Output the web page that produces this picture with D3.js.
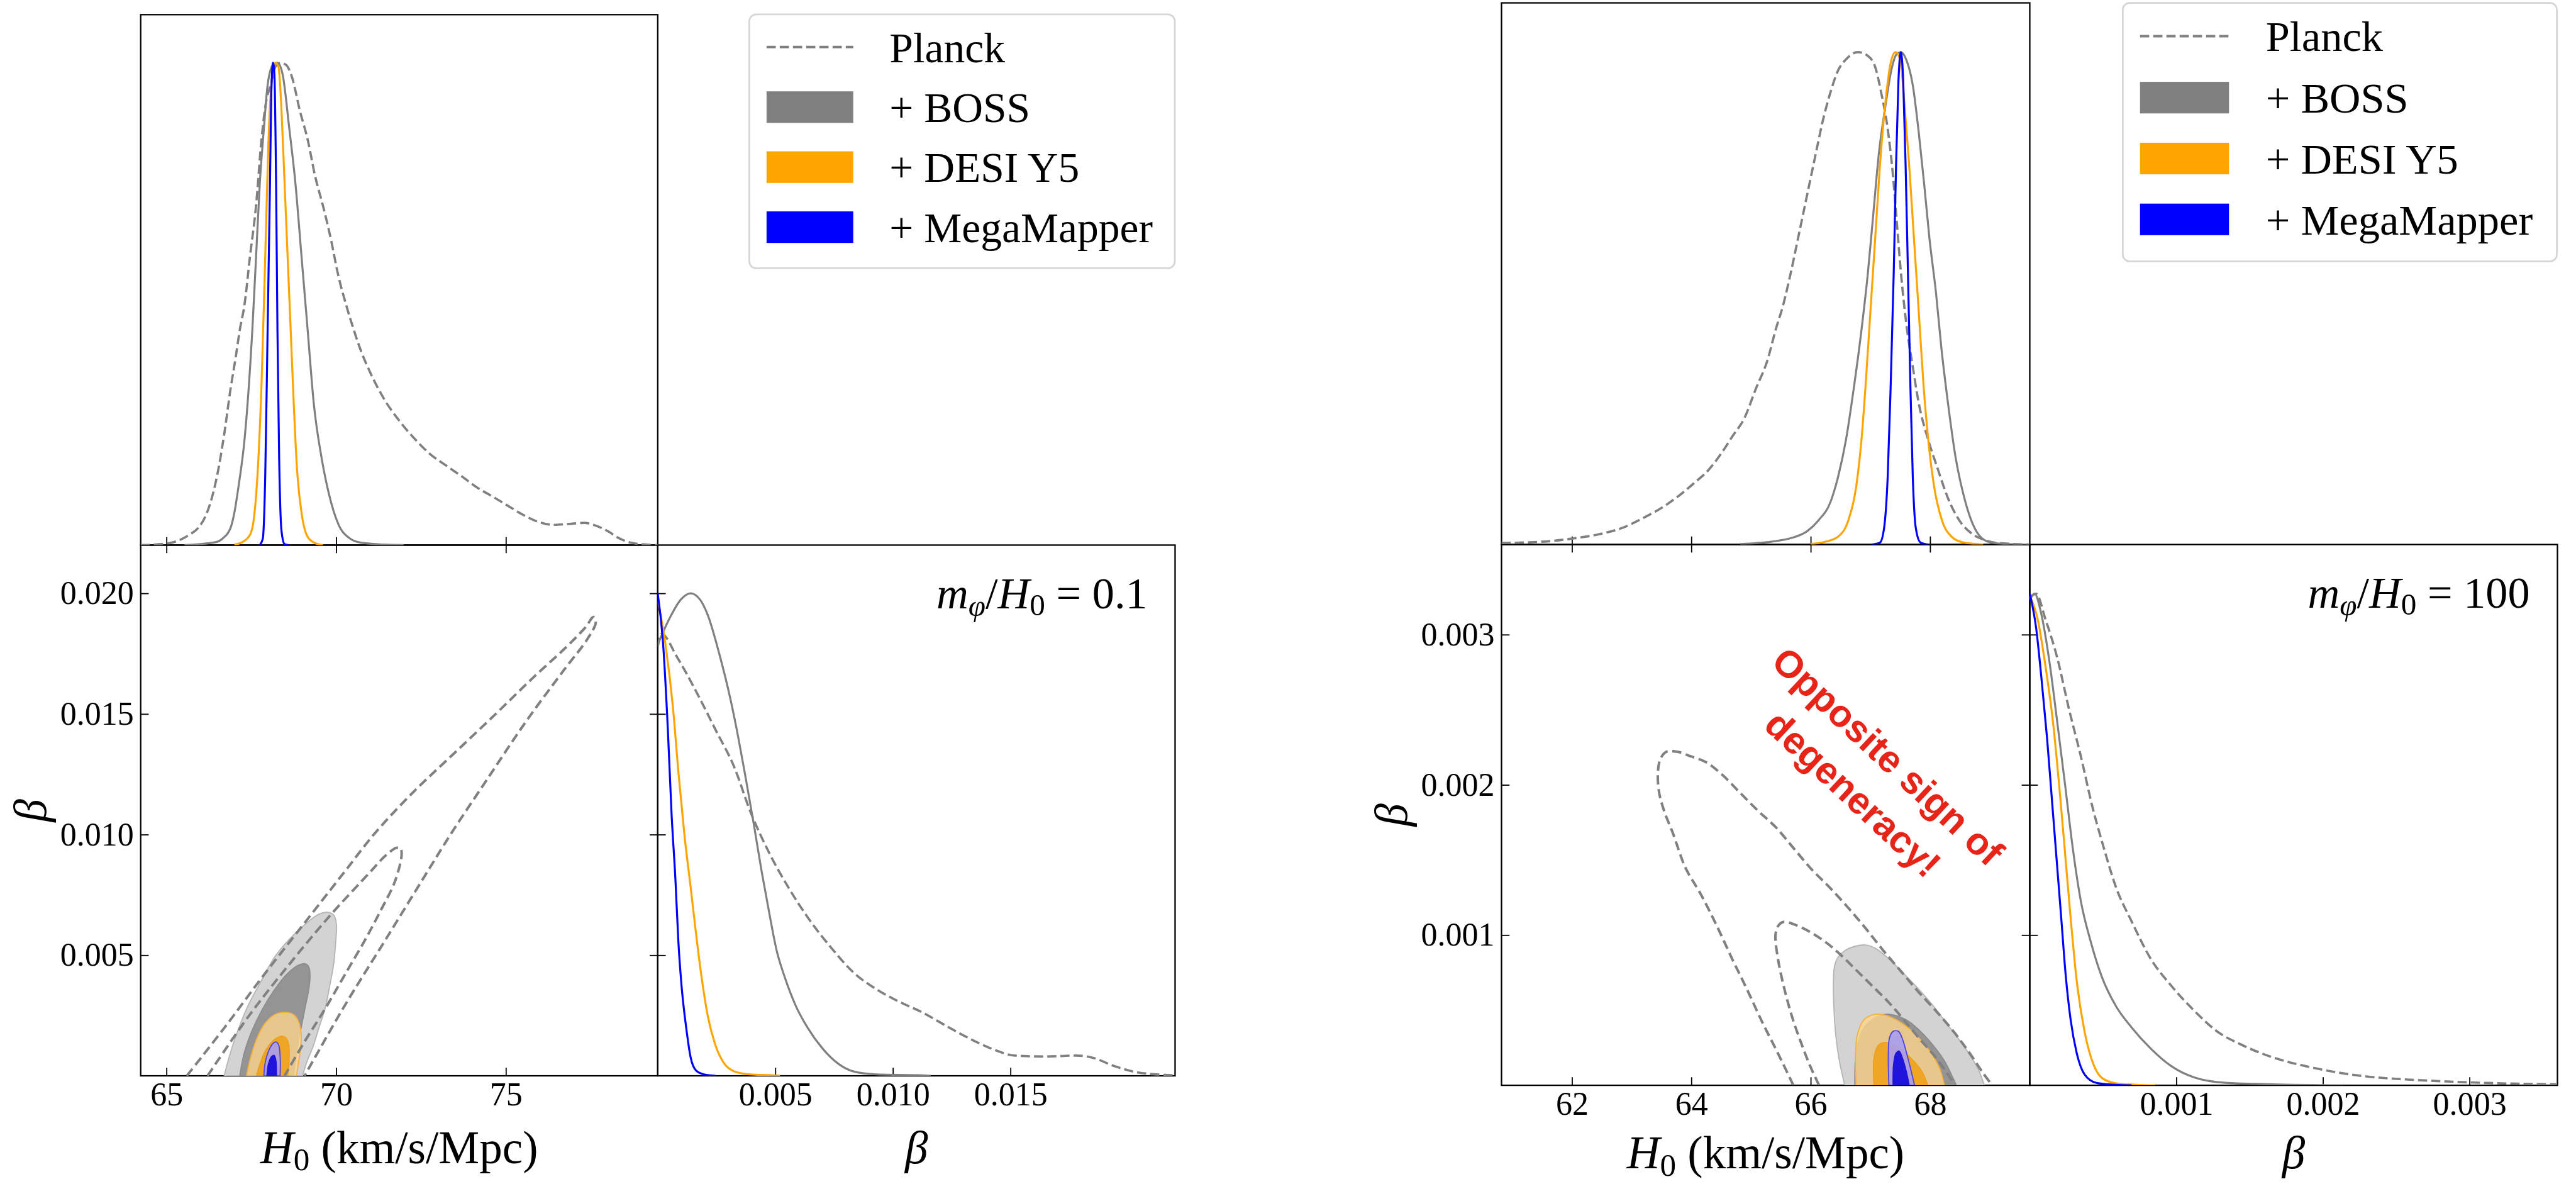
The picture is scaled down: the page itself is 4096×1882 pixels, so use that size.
<!DOCTYPE html>
<html>
<head>
<meta charset="utf-8">
<script src="https://cdn.jsdelivr.net/npm/d3@7"></script>
<style>
html, body { margin: 0; padding: 0; background: #fff; }
svg { display: block; }
text { font-family: "Liberation Serif", "Times New Roman", serif; fill: #000; }
</style>
</head>
<body>
<div id="chart"></div>
<script>
// ---------- data ----------

const legendLabels = ["Planck", "+ BOSS", "+ DESI Y5", "+ MegaMapper"];
const densityDomain = [0, 1.1];

// left figure: m_phi/H0 = 0.1
const leftH0Ticks = [65, 70, 75];
const leftBetaTicks = [0.005, 0.010, 0.015, 0.020];
const leftBetaXTicks = [0.005, 0.010, 0.015];

const leftH0Planck = [[64.24,0],[64.63,0.001],[64.96,0.003],[65.30,0.008],[65.64,0.020],[65.94,0.036],[66.17,0.063],[66.39,0.112],[66.55,0.165],[66.71,0.234],[66.89,0.325],[67.03,0.385],[67.16,0.446],[67.30,0.499],[67.46,0.598],[67.64,0.704],[67.80,0.841],[67.93,0.917],[68.07,0.954],[68.21,0.992],[68.36,1.000],[68.52,0.996],[68.70,0.970],[68.93,0.901],[69.16,0.841],[69.38,0.765],[69.61,0.704],[69.84,0.636],[70.06,0.560],[70.29,0.499],[70.52,0.446],[70.74,0.401],[70.97,0.363],[71.42,0.302],[71.88,0.256],[72.33,0.219],[72.78,0.188],[73.24,0.165],[73.69,0.143],[74.14,0.120],[74.60,0.101],[75.05,0.082],[75.50,0.063],[75.96,0.048],[76.41,0.042],[76.86,0.044],[77.31,0.046],[77.66,0.040],[78.00,0.029],[78.34,0.014],[78.68,0.005],[79.13,0.001],[79.47,0]];
const leftH0Boss = [[65.53,0],[66.44,0.006],[66.66,0.014],[66.89,0.036],[67.00,0.067],[67.12,0.120],[67.30,0.219],[67.39,0.294],[67.53,0.446],[67.64,0.598],[67.75,0.750],[67.87,0.863],[67.98,0.954],[68.14,0.996],[68.27,1.000],[68.42,0.977],[68.62,0.863],[68.80,0.750],[68.98,0.598],[69.16,0.446],[69.34,0.294],[69.57,0.181],[69.79,0.105],[70.06,0.044],[70.40,0.014],[70.74,0.005],[71.42,0.001],[71.99,0]];
const leftH0Desi = [[67.00,0.001],[67.23,0.006],[67.46,0.021],[67.57,0.052],[67.68,0.143],[67.80,0.332],[67.91,0.598],[68.00,0.826],[68.09,0.954],[68.21,1.000],[68.30,0.992],[68.39,0.901],[68.48,0.750],[68.57,0.598],[68.66,0.446],[68.75,0.294],[68.84,0.165],[68.98,0.067],[69.16,0.017],[69.38,0.004],[69.61,0]];
const leftH0Mega = [[67.75,0],[67.84,0.014],[67.91,0.143],[67.98,0.446],[68.05,0.750],[68.09,0.939],[68.14,1.000],[68.18,0.977],[68.23,0.750],[68.27,0.446],[68.32,0.181],[68.39,0.029],[68.48,0.002],[68.59,0]];

const leftBetaPlanck = [[0,0.889],[0.00016,0.916],[0.00082,0.868],[0.00163,0.797],[0.00245,0.718],[0.00327,0.638],[0.00392,0.550],[0.00474,0.462],[0.00555,0.391],[0.00637,0.329],[0.00735,0.267],[0.00833,0.214],[0.00931,0.179],[0.01029,0.153],[0.01127,0.131],[0.01225,0.104],[0.01323,0.078],[0.01421,0.056],[0.01519,0.042],[0.0165,0.040],[0.0178,0.042],[0.01846,0.038],[0.01943,0.020],[0.02042,0.007],[0.02198,0.001]];
const leftBetaBoss = [[0,0.894],[0.00049,0.947],[0.00098,0.987],[0.0014,1.0],[0.0018,0.987],[0.00212,0.956],[0.00261,0.876],[0.0031,0.779],[0.00343,0.700],[0.00376,0.612],[0.00408,0.523],[0.00441,0.426],[0.00474,0.338],[0.00506,0.259],[0.00539,0.206],[0.00588,0.144],[0.00637,0.100],[0.00702,0.056],[0.00768,0.025],[0.00833,0.009],[0.00931,0.003],[0.01127,0.001],[0.0116,0]];
const leftBetaDesi = [[0,0.985],[0.00033,0.894],[0.00065,0.762],[0.00088,0.629],[0.00114,0.497],[0.0014,0.391],[0.00163,0.294],[0.00186,0.206],[0.00212,0.126],[0.00245,0.064],[0.00278,0.029],[0.00327,0.009],[0.00392,0.003],[0.0049,0.001],[0.0052,0]];
const leftBetaMega = [[0,1.0],[0.00023,0.894],[0.00043,0.718],[0.00059,0.541],[0.00075,0.409],[0.00088,0.276],[0.00101,0.188],[0.00121,0.100],[0.0014,0.038],[0.00163,0.011],[0.00196,0.003],[0.00245,0]];

const leftBossOuter = [[66.70,0],[66.88,0.00094],[67.11,0.00190],[67.41,0.00293],[67.77,0.00388],[68.18,0.00491],[68.60,0.00563],[69.07,0.00626],[69.49,0.00670],[69.75,0.00678],[69.93,0.00666],[70.01,0.00626],[69.99,0.00563],[69.93,0.00467],[69.81,0.00372],[69.67,0.00277],[69.49,0.00198],[69.31,0.00118],[69.13,0.00055],[69.01,0]];
const leftBossInner = [[67.16,0],[67.29,0.00094],[67.53,0.00190],[67.83,0.00277],[68.18,0.00356],[68.54,0.00420],[68.89,0.00459],[69.07,0.00465],[69.19,0.00452],[69.23,0.00412],[69.19,0.00356],[69.10,0.00293],[69.01,0.00229],[68.92,0.00166],[68.83,0.00094],[68.75,0]];
const leftDesiOuter = [[67.36,0],[67.47,0.00071],[67.65,0.00150],[67.88,0.00213],[68.18,0.00253],[68.48,0.00263],[68.75,0.00253],[68.89,0.00225],[68.97,0.00174],[68.95,0.00110],[68.89,0.00055],[68.83,0]];
const leftDesiInner = [[67.65,0],[67.77,0.00055],[67.94,0.00110],[68.18,0.00150],[68.39,0.00164],[68.54,0.00154],[68.61,0.00118],[68.61,0.00055],[68.57,0]];
const leftMegaOuter = [[67.87,0],[67.91,0.00055],[68.03,0.00110],[68.15,0.00136],[68.24,0.00140],[68.31,0.00126],[68.35,0.00079],[68.35,0]];
const leftMegaInner = [[67.96,0],[68.00,0.00047],[68.09,0.00079],[68.17,0.00085],[68.22,0.00067],[68.24,0]];
const leftPlanckOuter = [[65.60,0],[66.70,0.00198],[67.88,0.00420],[69.07,0.00634],[70.26,0.00848],[71.15,0.01007],[72.30,0.01180],[73.50,0.01340],[74.70,0.01500],[75.80,0.01650],[76.80,0.01780],[77.35,0.01860],[77.58,0.01902],[77.65,0.01880],[77.40,0.01810],[76.70,0.01680],[75.60,0.01470],[74.50,0.01240],[73.40,0.01007],[72.63,0.00833],[71.45,0.00563],[70.26,0.00293],[69.07,0]];
const leftPlanckInner = [[66.21,0],[67.41,0.00245],[68.60,0.00459],[69.78,0.00658],[70.97,0.00840],[71.45,0.00912],[71.77,0.00945],[71.89,0.00944],[71.93,0.00920],[71.74,0.00809],[71.33,0.00690],[70.85,0.00563],[70.26,0.00420],[69.67,0.00277],[69.07,0.00142],[68.48,0]];

// right figure: m_phi/H0 = 100
const rightH0Ticks = [62, 64, 66, 68];
const rightBetaTicks = [0.001, 0.002, 0.003];
const rightBetaXTicks = [0.001, 0.002, 0.003];

const rightH0Planck = [[60.82,0.003],[61.54,0.006],[62.00,0.012],[62.46,0.021],[62.85,0.034],[63.18,0.053],[63.51,0.075],[63.77,0.097],[64.03,0.123],[64.30,0.153],[64.49,0.183],[64.69,0.220],[64.89,0.257],[65.08,0.316],[65.28,0.376],[65.41,0.435],[65.54,0.487],[65.67,0.554],[65.80,0.629],[65.94,0.710],[66.07,0.785],[66.20,0.859],[66.33,0.918],[66.46,0.963],[66.59,0.985],[66.79,1.0],[66.95,0.993],[67.08,0.970],[67.18,0.918],[67.29,0.844],[67.38,0.747],[67.44,0.658],[67.51,0.554],[67.60,0.450],[67.71,0.361],[67.81,0.287],[67.97,0.212],[68.13,0.153],[68.30,0.094],[68.49,0.049],[68.69,0.023],[68.89,0.010],[69.15,0.003],[69.66,0]];
const rightH0Boss = [[64.82,0.001],[65.35,0.006],[65.67,0.013],[65.94,0.027],[66.13,0.049],[66.33,0.086],[66.46,0.138],[66.59,0.212],[66.72,0.316],[66.85,0.435],[66.96,0.554],[67.05,0.673],[67.14,0.792],[67.25,0.889],[67.35,0.963],[67.44,0.996],[67.51,1.0],[67.60,0.985],[67.71,0.933],[67.81,0.837],[67.90,0.733],[67.99,0.621],[68.10,0.510],[68.19,0.398],[68.30,0.287],[68.43,0.175],[68.56,0.101],[68.69,0.049],[68.82,0.019],[69.02,0.004],[69.28,0.001],[69.66,0]];
const rightH0Desi = [[66.00,0.001],[66.26,0.006],[66.46,0.016],[66.63,0.049],[66.76,0.116],[66.85,0.212],[66.92,0.324],[67.00,0.473],[67.08,0.621],[67.16,0.770],[67.25,0.896],[67.34,0.978],[67.42,1.0],[67.50,0.985],[67.57,0.896],[67.65,0.770],[67.73,0.621],[67.81,0.473],[67.89,0.324],[67.97,0.212],[68.07,0.116],[68.20,0.049],[68.36,0.016],[68.56,0.004],[68.89,0]];
const rightH0Mega = [[67.02,0],[67.16,0.004],[67.23,0.034],[67.29,0.138],[67.34,0.324],[67.39,0.547],[67.43,0.770],[67.47,0.941],[67.51,1.0],[67.55,0.941],[67.59,0.770],[67.63,0.547],[67.67,0.324],[67.71,0.138],[67.76,0.034],[67.84,0.004],[67.97,0]];

const rightBetaPlanck = [[0,0.991],[0.000043,1.0],[0.000107,0.948],[0.000187,0.870],[0.000267,0.766],[0.000347,0.671],[0.000427,0.567],[0.000507,0.481],[0.000588,0.403],[0.000694,0.334],[0.000828,0.256],[0.000961,0.204],[0.001121,0.152],[0.001281,0.109],[0.001441,0.083],[0.001655,0.057],[0.001868,0.040],[0.002082,0.027],[0.002295,0.018],[0.002562,0.012],[0.002828,0.008],[0.003095,0.005],[0.003362,0.003],[0.003591,0.002]];
const rightBetaBoss = [[0,0.987],[0.0000325,1.0],[0.00008,0.957],[0.000134,0.862],[0.000187,0.740],[0.000241,0.611],[0.000294,0.481],[0.000347,0.377],[0.000417,0.291],[0.000491,0.221],[0.000588,0.161],[0.000694,0.118],[0.000828,0.074],[0.000961,0.040],[0.001121,0.016],[0.001334,0.005],[0.001655,0.002],[0.002135,0]];
const rightBetaDesi = [[0,0.996],[0.000054,0.948],[0.000107,0.853],[0.000161,0.732],[0.000203,0.602],[0.000241,0.472],[0.000278,0.343],[0.00032,0.213],[0.000374,0.109],[0.000438,0.040],[0.000507,0.012],[0.000614,0.003],[0.000854,0]];
const rightBetaMega = [[0,1.0],[0.000043,0.931],[0.00008,0.827],[0.000118,0.706],[0.00015,0.585],[0.000182,0.464],[0.000214,0.343],[0.000246,0.221],[0.000278,0.135],[0.00032,0.066],[0.000374,0.022],[0.000454,0.005],[0.000588,0.001],[0.000694,0]];

const rightBossOuter = [[66.57,0],[66.48,0.000163],[66.42,0.000333],[66.39,0.000504],[66.38,0.000675],[66.40,0.000794],[66.46,0.000854],[66.57,0.000896],[66.74,0.000925],[66.91,0.000934],[67.08,0.000913],[67.30,0.000845],[67.56,0.000743],[67.81,0.000640],[68.07,0.000521],[68.33,0.000385],[68.59,0.000248],[68.80,0.000112],[68.91,0]];
const rightBossInner = [[66.74,0],[66.76,0.000214],[66.87,0.000368],[67.08,0.000450],[67.30,0.000473],[67.60,0.000436],[67.86,0.000351],[68.07,0.000257],[68.24,0.000163],[68.37,0.000061],[68.44,0]];
const rightDesiOuter = [[66.76,0],[66.75,0.000196],[66.78,0.000333],[66.89,0.000436],[67.08,0.000473],[67.25,0.000467],[67.51,0.000418],[67.77,0.000333],[67.99,0.000231],[68.16,0.000112],[68.24,0]];
const rightDesiInner = [[67.06,0],[67.06,0.000180],[67.13,0.000265],[67.25,0.000286],[67.43,0.000265],[67.64,0.000196],[67.86,0.000094],[67.96,0]];
const rightMegaOuter = [[67.31,0],[67.30,0.000197],[67.32,0.000316],[67.38,0.000359],[67.47,0.000359],[67.53,0.000316],[67.64,0.000163],[67.74,0]];
const rightMegaInner = [[67.38,0],[67.39,0.000146],[67.43,0.000214],[67.48,0.000228],[67.53,0.000189],[67.60,0.000095],[67.65,0]];
const rightPlanckOuter = [[65.71,0],[65.45,0.000214],[65.19,0.000419],[64.93,0.000641],[64.68,0.000845],[64.42,0.001067],[64.16,0.001271],[63.90,0.001450],[63.69,0.00168],[63.55,0.00182],[63.46,0.00195],[63.44,0.00208],[63.48,0.00217],[63.58,0.00222],[63.77,0.00222],[63.99,0.00219],[64.25,0.00215],[64.51,0.00207],[64.81,0.00195],[65.11,0.00183],[65.41,0.00172],[65.71,0.00158],[66.01,0.00144],[66.31,0.00132],[66.61,0.00119],[66.91,0.00105],[67.21,0.00090],[67.51,0.00076],[67.81,0.00062],[68.11,0.00049],[68.41,0.00035],[68.67,0.00021],[68.89,0.00008],[69.04,0]];
const rightPlanckInner = [[66.14,0],[65.99,0.000129],[65.84,0.000282],[65.69,0.000453],[65.56,0.000640],[65.45,0.000845],[65.41,0.000999],[65.45,0.001058],[65.54,0.001087],[65.75,0.001067],[66.01,0.001016],[66.27,0.000947],[66.52,0.000862],[66.78,0.000760],[67.04,0.000658],[67.30,0.000555],[67.56,0.000436],[67.81,0.000316],[68.07,0.000197],[68.29,0.000078],[68.41,0]];

// ---------- styling ----------
const S = 0.913;
const W = 4096, H = 1882;
const lineColors = { planck: "#808080", boss: "#808080", desi: "#ffa500", mega: "#0000ff" };
const tickLen = 14;

const svg = d3.select("#chart").append("svg")
    .attr("width", W)
    .attr("height", H);
svg.append("rect").attr("width", W).attr("height", H).attr("fill", "#fff");

// everything below is drawn in reference pixels and scaled down
const root = svg.append("g").attr("transform", `scale(${S})`);
const defs = svg.append("defs");

const figures = [
    {
        id: "lo",
        x0: 245, x1: 1145.5, x2: 2046.5, y0: 25.5, y1: 949, y2: 1873,
        h0Domain: [64.24, 79.475], betaDomain: [0, 0.022],
        h0Ticks: leftH0Ticks, betaTicks: leftBetaTicks, betaXTicks: leftBetaXTicks,
        h0: [leftH0Planck, leftH0Boss, leftH0Desi, leftH0Mega],
        beta: [leftBetaPlanck, leftBetaBoss, leftBetaDesi, leftBetaMega],
        contours: { bossOuter: leftBossOuter, bossInner: leftBossInner, desiOuter: leftDesiOuter, desiInner: leftDesiInner, megaOuter: leftMegaOuter, megaInner: leftMegaInner, planck: [leftPlanckOuter, leftPlanckInner] },
        note: "0.1",
        labelDrop: 152,
        legend: { x: 1305, y: 25, w: 741, h: 442, rows: [82, 186.5, 291, 395.5], hx: 1335, hw: 151, ph: 55, tx: 1549, fs: 74 }
    },
    {
        id: "hi",
        x0: 2615, x1: 3535, x2: 4454, y0: 5, y1: 948, y2: 1889.5,
        h0Domain: [60.82, 69.67], betaDomain: [0, 0.0036],
        h0Ticks: rightH0Ticks, betaTicks: rightBetaTicks, betaXTicks: rightBetaXTicks,
        h0: [rightH0Planck, rightH0Boss, rightH0Desi, rightH0Mega],
        beta: [rightBetaPlanck, rightBetaBoss, rightBetaDesi, rightBetaMega],
        contours: { bossOuter: rightBossOuter, bossInner: rightBossInner, desiOuter: rightDesiOuter, desiInner: rightDesiInner, megaOuter: rightMegaOuter, megaInner: rightMegaInner, planck: [rightPlanckOuter, rightPlanckInner] },
        note: "100",
        labelDrop: 145,
        legend: { x: 3697, y: 5, w: 756, h: 450, rows: [63, 170, 276, 382], hx: 3727, hw: 155, ph: 55, tx: 3946, fs: 75 }
    }
];

const seriesStyle = [
    { color: lineColors.planck, width: 4, dash: "16,7" },
    { color: lineColors.boss, width: 3.5, dash: null },
    { color: lineColors.desi, width: 3.5, dash: null },
    { color: lineColors.mega, width: 3.5, dash: null }
];

function h0Label(t) {
    t.append("tspan").attr("font-style", "italic").text("H");
    t.append("tspan").attr("font-size", "70%").attr("dy", "0.22em").text("0");
    t.append("tspan").attr("dy", "-0.154em").text(" (km/s/Mpc)");
}

function noteLabel(t, value) {
    t.append("tspan").attr("font-style", "italic").text("m");
    t.append("tspan").attr("font-style", "italic").attr("font-size", "70%").attr("dy", "0.25em").text("φ");
    t.append("tspan").attr("dy", "-0.175em").text("/");
    t.append("tspan").attr("font-style", "italic").text("H");
    t.append("tspan").attr("font-size", "70%").attr("dy", "0.22em").text("0");
    t.append("tspan").attr("dy", "-0.154em").text(" = " + value);
}

function drawFigure(fig) {
    const xH = d3.scaleLinear().domain(fig.h0Domain).range([fig.x0, fig.x1]);
    const xB = d3.scaleLinear().domain(fig.betaDomain).range([fig.x1, fig.x2]);
    const yB = d3.scaleLinear().domain(fig.betaDomain).range([fig.y2, fig.y1]);
    const yTop = d3.scaleLinear().domain(densityDomain).range([fig.y1, fig.y0]);
    const ySide = d3.scaleLinear().domain(densityDomain).range([fig.y2, fig.y1]);

    const panels = {
        top: [fig.x0, fig.y0, fig.x1 - fig.x0, fig.y1 - fig.y0],
        tri: [fig.x0, fig.y1, fig.x1 - fig.x0, fig.y2 - fig.y1],
        side: [fig.x1, fig.y1, fig.x2 - fig.x1, fig.y2 - fig.y1]
    };
    Object.entries(panels).forEach(([k, p]) => {
        defs.append("clipPath").attr("id", fig.id + k)
            .append("rect")
            .attr("x", p[0] * S).attr("y", p[1] * S)
            .attr("width", p[2] * S).attr("height", p[3] * S);
    });
    const clip = k => `url(#${fig.id}${k})`;

    // 2D contours
    const tri = svg.append("g").attr("clip-path", clip("tri"))
        .append("g").attr("transform", `scale(${S})`);
    const cLine = d3.line().x(d => xH(d[0])).y(d => yB(d[1])).curve(d3.curveCatmullRom.alpha(0.5));
    const c = fig.contours;
    const fills = [
        [c.bossOuter, "#d3d3d3", 1, "#b5b5b5"],
        [c.bossInner, "#949494", 1, "#8c8c8c"],
        [c.desiOuter, "#ffd68a", 0.78, "#f5b13c"],
        [c.desiInner, "#f0a31c", 0.92, "#eda020"],
        [c.megaOuter, "#a69ef0", 0.9, "#4f45e6"],
        [c.megaInner, "#1f14dc", 1, "#1f14dc"]
    ];
    fills.forEach(([pts, col, op, edge]) => {
        tri.append("path")
            .attr("d", cLine(pts) + "Z")
            .attr("fill", col)
            .attr("fill-opacity", op)
            .attr("stroke", edge)
            .attr("stroke-width", 2);
    });
    c.planck.forEach(pts => {
        tri.append("path")
            .attr("d", cLine(pts))
            .attr("fill", "none")
            .attr("stroke", lineColors.planck)
            .attr("stroke-width", 4.4)
            .attr("stroke-dasharray", "16,8");
    });

    // 1D H0 curves
    const top = svg.append("g").attr("clip-path", clip("top"))
        .append("g").attr("transform", `scale(${S})`);
    const hLine = d3.line().x(d => xH(d[0])).y(d => yTop(d[1])).curve(d3.curveMonotoneX);
    fig.h0.forEach((pts, i) => {
        const st = seriesStyle[i];
        top.append("path")
            .attr("d", hLine(pts))
            .attr("fill", "none")
            .attr("stroke", st.color)
            .attr("stroke-width", st.width)
            .attr("stroke-dasharray", st.dash);
    });

    // 1D beta curves
    const side = svg.append("g").attr("clip-path", clip("side"))
        .append("g").attr("transform", `scale(${S})`);
    const bLine = d3.line().x(d => xB(d[0])).y(d => ySide(d[1])).curve(d3.curveMonotoneX);
    fig.beta.forEach((pts, i) => {
        const st = seriesStyle[i];
        side.append("path")
            .attr("d", bLine(pts))
            .attr("fill", "none")
            .attr("stroke", st.color)
            .attr("stroke-width", st.width)
            .attr("stroke-dasharray", st.dash);
    });

    // axes
    const ax = root.append("g");
    const fmt = d3.format(".3f");
    const styleAxis = sel => {
        sel.select(".domain").remove();
        sel.selectAll(".tick line").attr("stroke", "#000").attr("stroke-width", 2);
        sel.selectAll(".tick text").attr("font-size", 57);
    };
    ax.append("g").attr("transform", `translate(0,${fig.y2})`)
        .call(d3.axisBottom(xH).tickValues(fig.h0Ticks).tickSize(-tickLen).tickPadding(11).tickFormat(d3.format("d")))
        .call(styleAxis);
    ax.append("g").attr("transform", `translate(0,${fig.y1})`)
        .call(d3.axisTop(xH).tickValues(fig.h0Ticks).tickSize(-tickLen).tickFormat(""))
        .call(styleAxis);
    ax.append("g").attr("transform", `translate(0,${fig.y1})`)
        .call(d3.axisBottom(xH).tickValues(fig.h0Ticks).tickSize(-tickLen).tickFormat(""))
        .call(styleAxis);
    ax.append("g").attr("transform", `translate(${fig.x0},0)`)
        .call(d3.axisLeft(yB).tickValues(fig.betaTicks).tickSize(-tickLen).tickPadding(12).tickFormat(fmt))
        .call(styleAxis);
    ax.append("g").attr("transform", `translate(${fig.x1},0)`)
        .call(d3.axisRight(yB).tickValues(fig.betaTicks).tickSize(-tickLen).tickFormat(""))
        .call(styleAxis);
    ax.append("g").attr("transform", `translate(${fig.x1},0)`)
        .call(d3.axisLeft(yB).tickValues(fig.betaTicks).tickSize(-tickLen).tickFormat(""))
        .call(styleAxis);
    ax.append("g").attr("transform", `translate(0,${fig.y2})`)
        .call(d3.axisBottom(xB).tickValues(fig.betaXTicks).tickSize(-tickLen).tickPadding(11).tickFormat(fmt))
        .call(styleAxis);

    // panel frames
    Object.values(panels).forEach(p => {
        ax.append("rect")
            .attr("x", p[0]).attr("y", p[1])
            .attr("width", p[2]).attr("height", p[3])
            .attr("fill", "none")
            .attr("stroke", "#000")
            .attr("stroke-width", 2.5);
    });

    // axis labels
    const lab = ax.append("g").attr("font-size", 80);
    lab.append("text")
        .attr("x", (fig.x0 + fig.x1) / 2).attr("y", fig.y2 + fig.labelDrop)
        .attr("text-anchor", "middle")
        .call(h0Label);
    lab.append("text")
        .attr("x", (fig.x1 + fig.x2) / 2).attr("y", fig.y2 + fig.labelDrop)
        .attr("text-anchor", "middle")
        .attr("font-style", "italic")
        .text("β");
    lab.append("text")
        .attr("transform", `translate(${fig.x0 - 165},${(fig.y1 + fig.y2) / 2}) rotate(-90)`)
        .attr("text-anchor", "middle")
        .attr("font-style", "italic")
        .text("β");
    lab.append("text")
        .attr("x", fig.x2 - 48).attr("y", fig.y1 + 110)
        .attr("text-anchor", "end")
        .attr("font-size", 77)
        .call(noteLabel, fig.note);

    // legend
    const L = fig.legend;
    const lg = root.append("g");
    lg.append("rect")
        .attr("x", L.x).attr("y", L.y)
        .attr("width", L.w).attr("height", L.h)
        .attr("rx", 12).attr("ry", 12)
        .attr("fill", "#fff").attr("fill-opacity", 0.8)
        .attr("stroke", "#d6d6d6").attr("stroke-width", 3);
    legendLabels.forEach((name, i) => {
        const cy = L.rows[i];
        if (i === 0) {
            lg.append("line")
                .attr("x1", L.hx).attr("x2", L.hx + L.hw)
                .attr("y1", cy).attr("y2", cy)
                .attr("stroke", lineColors.planck)
                .attr("stroke-width", 4.4)
                .attr("stroke-dasharray", "16,7");
        } else {
            lg.append("rect")
                .attr("x", L.hx).attr("y", cy - L.ph / 2)
                .attr("width", L.hw).attr("height", L.ph)
                .attr("fill", seriesStyle[i].color);
        }
        lg.append("text")
            .attr("x", L.tx).attr("y", cy + 26)
            .attr("font-size", L.fs)
            .text(name);
    });
}

figures.forEach(drawFigure);

// red note on the m_phi/H0 = 100 figure
const note = root.append("text")
    .attr("transform", "translate(3258,1349) rotate(43)")
    .attr("text-anchor", "middle")
    .attr("font-size", 66)
    .style("font-family", "'Liberation Sans', Arial, sans-serif")
    .style("font-weight", "bold")
    .style("fill", "#e82418");
note.append("tspan").attr("x", 0).attr("y", -44).attr("dy", "0.35em").text("Opposite sign of");
note.append("tspan").attr("x", 0).attr("y", 45).attr("dy", "0.35em").text("degeneracy!");
</script>
</body>
</html>
